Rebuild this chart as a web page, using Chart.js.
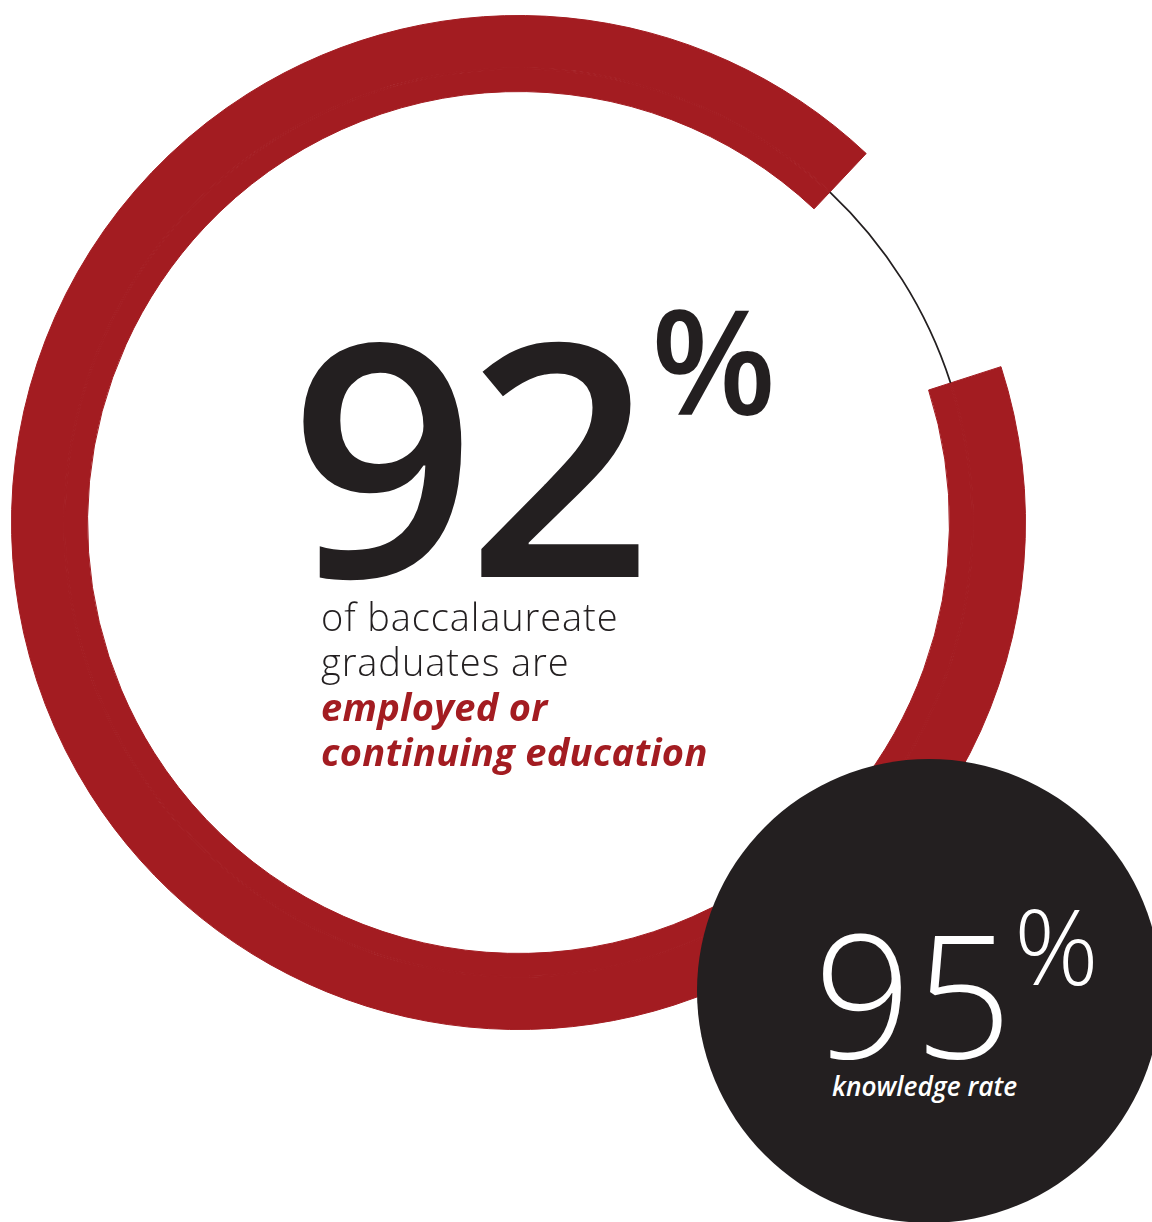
<!DOCTYPE html>
<html>
<head>
<meta charset="utf-8">
<script src="https://cdn.jsdelivr.net/npm/chart.js@4.4.1/dist/chart.umd.min.js"></script>
<style>
    html, body { margin: 0; padding: 0; background: #ffffff; overflow: hidden; }
    body { width: 1152px; height: 1222px; position: relative; font-family: "Open Sans", sans-serif; }
    .abs { position: absolute; white-space: nowrap; }
    #ringWrap { position: absolute; left: 11px; top: 15px; width: 1015px; height: 1015px; }
    #badge { position: absolute; left: 697px; top: 759px; width: 464px; height: 464px; border-radius: 50%; background: #231f20; }
    .big { color: #231f20; font-weight: 600; line-height: 1; }
    .body { color: #231f20; font-weight: 300; font-size: 38px; line-height: 45px; letter-spacing: 0.9px; }
    .accent { color: #a31c21; font-weight: 700; font-style: italic; letter-spacing: 0.3px; }
    .white { color: #ffffff; line-height: 1; }
</style>
</head>
<body>
<div id="ringWrap"><canvas id="ringChart"></canvas></div>
<div id="badge"></div>

<div class="abs big" id="mainValue" style="left:290px; top:289px; font-size:325px; letter-spacing:-9px;"></div>
<div class="abs big" style="left:651px; top:286px; font-size:145px;">%</div>
<div class="abs body" id="mainText" style="left:321px; top:594px;">
    of baccalaureate<br>graduates are<br><span class="accent">employed or<br>continuing education</span>
</div>

<div class="abs white" id="badgeValue" style="left:814px; top:906px; font-size:171px; font-weight:300; letter-spacing:3px;"></div>
<div class="abs white" style="left:1014px; top:892px; font-size:105px; font-weight:300;">%</div>
<div class="abs white" style="left:832px; top:1073px; font-size:26.3px; font-weight:600; font-style:italic;">knowledge rate</div>

<script>
// Valores do gráfico
const shareLabels = ['Employed or continuing education', 'Other'];
const shareValues = [92, 8];
const badgeValues = [95];

const RED = '#a31c21';
const DARK = '#231f20';

document.getElementById('mainValue').innerText = shareValues[0];
document.getElementById('badgeValue').innerText = badgeValues[0];

// Anel: faixa externa, linha fina (mostra a lacuna) e faixa interna
function ring(weight, gapColor) {
    return {
        data: shareValues,
        weight: weight,
        backgroundColor: [RED, gapColor],
        borderColor: [RED, 'rgba(0,0,0,0)'],
        borderWidth: [1, 0]
    };
}

const ctx = document.getElementById('ringChart').getContext('2d');
new Chart(ctx, {
    type: 'doughnut',
    data: {
        labels: shareLabels,
        datasets: [
            ring(52, 'rgba(0,0,0,0)'),
            ring(1.8, DARK),
            ring(22.2, 'rgba(0,0,0,0)')
        ]
    },
    options: {
        responsive: true,
        maintainAspectRatio: false,
        animation: false,
        events: [],
        rotation: 72.1,
        circumference: 360,
        cutout: '85%',
        layout: { padding: 0 },
        plugins: {
            legend: { display: false },
            tooltip: { enabled: false }
        }
    }
});
</script>
</body>
</html>
